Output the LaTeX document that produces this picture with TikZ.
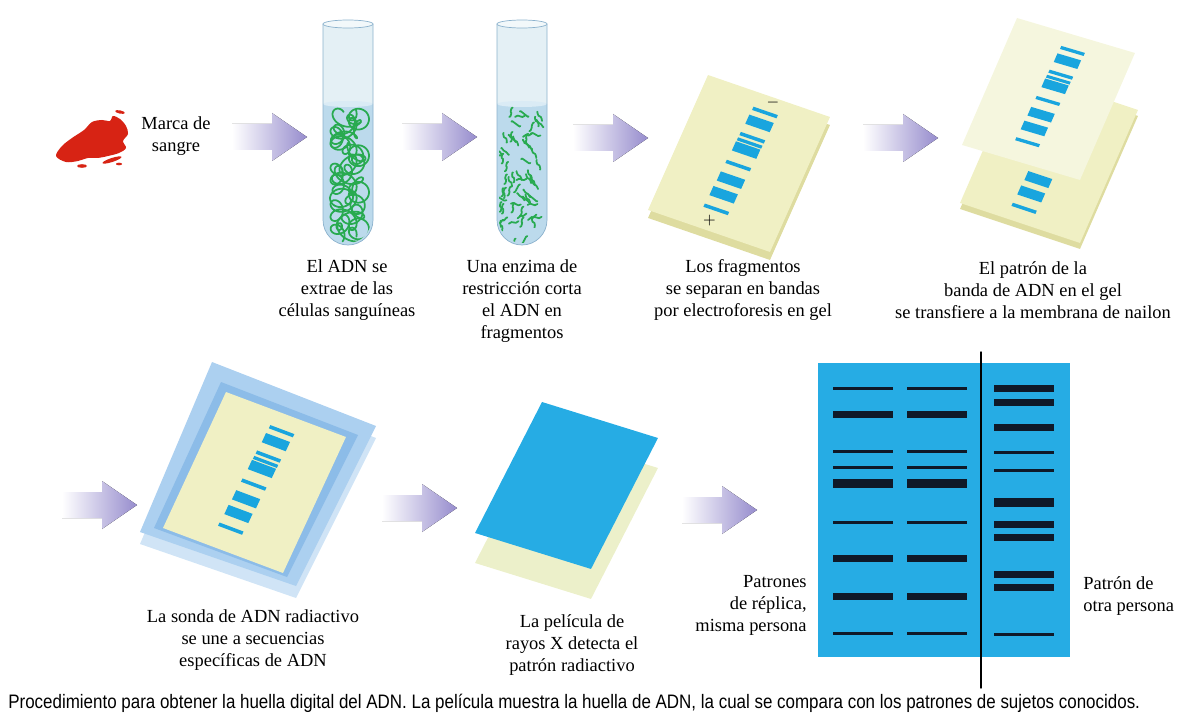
\documentclass[tikz,border=0pt]{standalone}
\usepackage{graphicx}
\usepackage{fontspec}
\setmainfont{Liberation Serif}
\newfontfamily\captionfont{Liberation Sans}

\definecolor{arrowblue}{RGB}{150,140,205}
\definecolor{bloodred}{RGB}{215,35,20}
\definecolor{dnagreen}{RGB}{40,170,80}
\definecolor{glass}{RGB}{228,240,245}
\definecolor{liquid}{RGB}{188,218,236}
\definecolor{tubeline}{RGB}{140,178,205}
\definecolor{gelyellow}{RGB}{240,240,196}
\definecolor{gelside}{RGB}{222,220,160}
\definecolor{nylon}{RGB}{245,246,222}
\definecolor{bandblue}{RGB}{25,165,222}
\definecolor{filmblue}{RGB}{38,172,228}
\definecolor{filmback}{RGB}{236,240,202}
\definecolor{trayrim}{RGB}{172,208,240}
\definecolor{trayinner}{RGB}{140,188,232}
\definecolor{trayside}{RGB}{208,228,246}
\definecolor{darkband}{RGB}{15,25,40}

% bands of one lane, in the sheet's own unit square
\newcommand\gelbands[1][0]{%
  \foreach \v/\w in {0.115/0.024, 0.197/0.068, 0.305/0.024, 0.345/0.022, 0.398/0.068,
                     0.515/0.024, 0.625/0.068, 0.735/0.068, 0.845/0.024}
    \fill[band] ({0.43-0.055*\v},{\v+#1-\w/2}) -- ++(0.2,0) -- ++(0,\w) -- ++(-0.2,0) -- cycle;
}

\tikzset{
  steptext/.style={align=center, font=\fontsize{10.5}{12.5}\selectfont, inner sep=0pt},
  dna/.style={draw=dnagreen, line width=1pt, line cap=round, line join=round},
  band/.style={fill=bandblue},
  flow/.pic={
    \fill[left color=white, right color=arrowblue]
      (-75,-13) -- (-35,-13) -- (-35,-24) -- (0,0) -- (-35,24) -- (-35,13) -- (-75,13) -- cycle;
  },
  testtube/.pic={
    \fill[glass] (-25,24) -- (-25,220) arc[start angle=180, end angle=0, radius=25] -- (25,24) -- cycle;
    \fill[liquid] (-25,104) -- (-25,220) arc[start angle=180, end angle=0, radius=25] -- (25,104) -- cycle;
    \fill[liquid!55!white] (0,104) ellipse [x radius=25, y radius=3];
    \draw[tubeline] (-25,24) -- (-25,220) arc[start angle=180, end angle=0, radius=25] -- (25,24);
    \draw[tubeline, fill=glass!50!white] (0,24) ellipse [x radius=25, y radius=4];
  }
}

\begin{document}
\begin{tikzpicture}[x=0.02cm, y=-0.02cm, line cap=round, line join=round]

\useasboundingbox (0,0) rectangle (1204,713);

% --- Blood stain ---
\fill[bloodred] plot[smooth cycle, tension=0.55] coordinates {
  (56,156) (62,146) (72,138) (84,130) (92,122) (102,120) (110,121) (113,116)
  (120,119) (126,126) (128,134) (123,141) (126,148) (119,153) (108,156)
  (98,158) (88,158) (78,161) (66,162)};
\fill[bloodred, rotate around={-12:(120,112)}] (120,112) ellipse [x radius=5, y radius=1.6];
\fill[bloodred, rotate around={18:(112,160)}] (112,160) ellipse [x radius=10, y radius=2];
\fill[bloodred] (82,166) ellipse [x radius=5, y radius=1.8];
\fill[bloodred] (119,164) ellipse [x radius=3, y radius=1.3];
\node[steptext] (bloodtext) at (176,136) {Marca de\\sangre};

% --- Tubes ---
\pic (tubeA) at (348,0) {testtube};
\pic (tubeB) at (522,0) {testtube};

% long tangled DNA
\begin{scope}
  \clip (325,106) -- (371,106) -- (371,220) arc[start angle=0, end angle=180, radius=23] -- cycle;
  \draw[dna] plot[domain=0:1, samples=400, smooth, variable=\t]
    ({348+13*sin(\t*1260)+8*cos(\t*5040)}, {110+128*\t+8*sin(\t*5040)});
  \draw[dna] plot[domain=0:1, samples=400, smooth, variable=\t]
    ({348+11*sin(\t*900+120)+7*cos(\t*4320+60)}, {116+120*\t+7*sin(\t*4320+60)});
  \draw[dna] plot[domain=0:1, samples=400, smooth, variable=\t]
    ({348+12*sin(\t*1620+240)+6*cos(-\t*3960)}, {112+126*\t+6*sin(-\t*3960)});
\end{scope}

% cut fragments
\begin{scope}
  \clip (499,106) -- (545,106) -- (545,220) arc[start angle=0, end angle=180, radius=23] -- cycle;
  \pgfmathsetseed{11}
  \foreach \i in {1,...,62} {
    \pgfmathsetmacro\fx{501+40*rnd}
    \pgfmathsetmacro\fy{111+132*rnd}
    \pgfmathsetmacro\fa{360*rnd}
    \draw[dna] (\fx,\fy) to[out=\fa+45, in=\fa+135] ++(\fa:5) to[out=\fa-45, in=\fa-135] ++(\fa:5);
  }
\end{scope}

\node[steptext] (tubeAtext) at (347,290) {El ADN se\\extrae de las\\células sanguíneas};
\node[steptext] (tubeBtext) at (522,301) {Una enzima de\\restricción corta\\el ADN en\\fragmentos};

% --- Electrophoresis gel ---
\begin{scope}[shift={(708,75)}, x={(2.44cm,-0.84cm)}, y={(-1.2cm,-2.7cm)}]
  \fill[gelside, yshift=-0.16cm] (0,0) -- (1,0) -- (1,1) -- (0,1) -- cycle;
  \fill[gelyellow] (0,0) -- (1,0) -- (1,1) -- (0,1) -- cycle;
  \gelbands
  \node[font=\small] (minus) at (0.55,0.035) {$-$};
  \node[font=\small] (plus) at (0.47,0.93) {$+$};
\end{scope}
\node[steptext] (geltext) at (743,290) {Los fragmentos\\se separan en bandas\\por electroforesis en gel};

% --- Blot onto nylon ---
\begin{scope}[shift={(1018,70)}, x={(2.4cm,-0.8cm)}, y={(-1.16cm,-2.66cm)}]
  \fill[gelside, yshift=-0.12cm] (0,0) -- (1,0) -- (1,1) -- (0,1) -- cycle;
  \fill[gelyellow] (0,0) -- (1,0) -- (1,1) -- (0,1) -- cycle;
  \gelbands[0.05]
\end{scope}
\begin{scope}[shift={(1017,18)}, x={(2.36cm,-0.7cm)}, y={(-1.1cm,-2.54cm)}]
  \fill[nylon] (0,0) -- (1,0) -- (1,1) -- (0,1) -- cycle;
  \gelbands
\end{scope}
\node[steptext] (blottext) at (1033,290) {El patrón de la\\banda de ADN en el gel\\se transfiere a la membrana de nailon};

% --- Probe tray ---
\fill[trayside] (212,374) -- (376,438) -- (296,598) -- (140,544) -- cycle;
\fill[trayrim] (212,362) -- (376,426) -- (296,586) -- (140,532) -- cycle;
\fill[trayinner] (221,382) -- (358,435) -- (287,577) -- (154,528) -- cycle;
\begin{scope}[shift={(226,392)}, x={(2.4cm,-0.9cm)}, y={(-1.26cm,-2.72cm)}]
  \fill[gelyellow] (0,0) -- (1,0) -- (1,1) -- (0,1) -- cycle;
  \gelbands
\end{scope}
\node[steptext] (probetext) at (253,640) {La sonda de ADN radiactivo\\se une a secuencias\\específicas de ADN};

% --- X-ray film ---
\begin{scope}[shift={(542,432)}, x={(2.32cm,-0.72cm)}, y={(-1.34cm,-2.62cm)}]
  \fill[filmback] (0,0) -- (1,0) -- (1,1) -- (0,1) -- cycle;
\end{scope}
\begin{scope}[shift={(542,402)}, x={(2.32cm,-0.72cm)}, y={(-1.34cm,-2.62cm)}]
  \fill[filmblue] (0,0) -- (1,0) -- (1,1) -- (0,1) -- cycle;
\end{scope}
\node[steptext] (filmtext) at (572,645) {La película de\\rayos X detecta el\\patrón radiactivo};

% --- Fingerprint comparison ---
\fill[filmblue] (818,363) rectangle (1070,657);
\foreach \y/\h in {388/3, 414/7, 451/3, 467/3, 483/9, 522/3, 558/7, 596/7, 633/3} {
  \fill[darkband] (833,\y-\h/2) rectangle (893,\y+\h/2);
  \fill[darkband] (907,\y-\h/2) rectangle (967,\y+\h/2);
}
\foreach \y/\h in {388/7, 402/7, 427/7, 452/3, 470/3, 502/9, 524/7, 537/7, 574/7, 587/7, 634/3}
  \fill[darkband] (994,\y-\h/2) rectangle (1054,\y+\h/2);
\coordinate (divtop) at (981,352);
\coordinate (divbot) at (981,688);
\draw[line width=0.8pt] (divtop) -- (divbot);

\node[steptext, align=right, anchor=east] (sametext) at (807,605) {Patrones\\de réplica,\\misma persona};
\node[steptext, align=left, anchor=west] (othertext) at (1083,596) {Patrón de\\otra persona};

% --- Arrows ---
\pic (arrowA) at (307,137) {flow};
\pic (arrowB) at (477,137) {flow};
\pic (arrowC) at (648,138) {flow};
\pic (arrowD) at (938,138) {flow};
\pic (arrowE) at (137,505) {flow};
\pic (arrowF) at (457,508) {flow};
\pic (arrowG) at (757,510) {flow};

% --- Caption ---
\node[anchor=west, inner sep=0pt] (caption) at (8,703) {\resizebox{22.64cm}{!}{\scalebox{1}[1.15]{\captionfont
  Procedimiento para obtener la huella digital del ADN. La película muestra la huella de ADN, la cual se compara con los patrones de sujetos conocidos.}}};

\end{tikzpicture}
\end{document}
